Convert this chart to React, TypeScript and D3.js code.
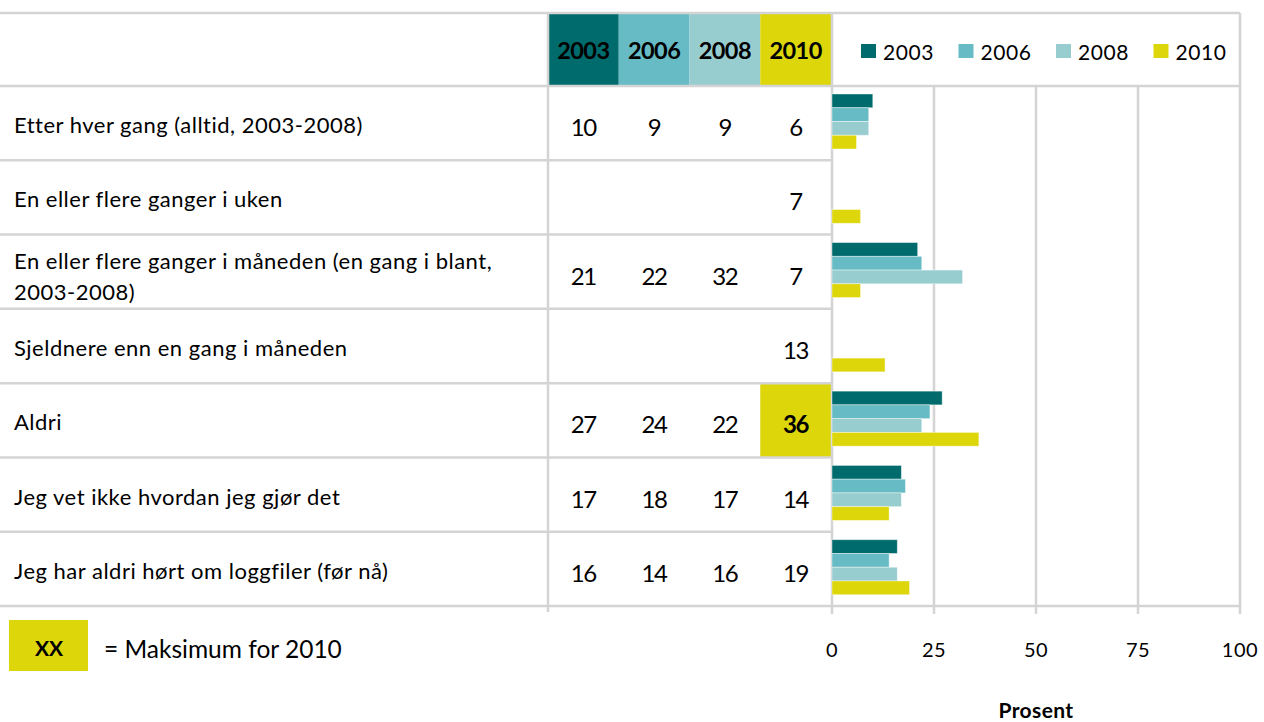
import React from "react";
import * as d3 from "d3";

const years = ["2003", "2006", "2008", "2010"];
const colors = ["#006b6d", "#66bbc4", "#98cdd0", "#ddd60b"];
const categories = [
  ["Etter hver gang (alltid, 2003-2008)"],
  ["En eller flere ganger i uken"],
  ["En eller flere ganger i måneden (en gang i blant,", "2003-2008)"],
  ["Sjeldnere enn en gang i måneden"],
  ["Aldri"],
  ["Jeg vet ikke hvordan jeg gjør det"],
  ["Jeg har aldri hørt om loggfiler (før nå)"],
];
const v2003: (number | null)[] = [10, null, 21, null, 27, 17, 16];
const v2006: (number | null)[] = [9, null, 22, null, 24, 18, 14];
const v2008: (number | null)[] = [9, null, 32, null, 22, 17, 16];
const v2010: (number | null)[] = [6, 7, 7, 13, 36, 14, 19];
const series = [v2003, v2006, v2008, v2010];
const xTicks = [0, 25, 50, 75, 100];

const FONT = "Lato, 'Open Sans', sans-serif";
const GRID = "#d4d4d4";

export default function App() {
  const W = 1264, H = 722;
  const top = 13, headerBottom = 86, bottom = 606;
  const x = d3.scaleLinear().domain([0, 100]).range([832, 1240]);
  const rowIdx = categories.map((_, i) => String(i));
  const y = d3.scaleBand().domain(rowIdx).range([headerBottom, bottom]);
  const inner = d3.scaleBand().domain(years).range([8, 63]);
  const colX = d3.scaleBand().domain(years).range([548, 831]);
  const maxIdx = v2010.indexOf(d3.max(v2010 as number[]) as number);

  return (
    <div style={{ position: "absolute", left: 0, top: 0 }}>
      <svg width={W} height={H} style={{ display: "block", fontFamily: FONT }}>
        <rect width={W} height={H} fill="#fff" />
        {/* header cells */}
        {years.map((yr, i) => (
          <g key={yr}>
            <rect x={colX(yr)} y={top} width={colX.bandwidth()} height={headerBottom - top} fill={colors[i]} />
            <text x={(colX(yr) as number) + colX.bandwidth() / 2} y={59} textAnchor="middle" fontSize={23.5} letterSpacing={-0.6} fontWeight="bold" fill="#000">
              {yr}
            </text>
          </g>
        ))}
        {/* highlight max 2010 */}
        <rect x={colX("2010")} y={y(String(maxIdx))} width={colX.bandwidth()} height={y.bandwidth()} fill={colors[3]} />
        {/* vertical grid in chart */}
        {xTicks.map((t) => (
          <line key={t} x1={x(t)} x2={x(t)} y1={t === 0 || t === 100 ? top : headerBottom} y2={614} stroke={GRID} strokeWidth={2.5} />
        ))}
        <line x1={548} x2={548} y1={top} y2={612} stroke={GRID} strokeWidth={2.5} />
        {/* horizontal lines */}
        <line x1={0} x2={1240} y1={top} y2={top} stroke={GRID} strokeWidth={2.5} />
        <line x1={0} x2={1240} y1={headerBottom} y2={headerBottom} stroke={GRID} strokeWidth={2.5} />
        {rowIdx.slice(1).map((r) => (
          <line key={r} x1={0} x2={831} y1={y(r)} y2={y(r)} stroke={GRID} strokeWidth={2.5} />
        ))}
        <line x1={0} x2={1240} y1={bottom} y2={bottom} stroke={GRID} strokeWidth={2.5} />
        {/* legend */}
        {years.map((yr, i) => {
          const lx = 861 + i * 97.5;
          return (
            <g key={yr}>
              <rect x={lx} y={44} width={15} height={14} fill={colors[i]} />
              <text x={lx + 22} y={60} fontSize={21} letterSpacing={0.6} fill="#000">{yr}</text>
            </g>
          );
        })}
        {/* rows */}
        {categories.map((lines, i) => {
          const r = String(i);
          const y0 = y(r) as number;
          const cy = y0 + y.bandwidth() / 2;
          return (
            <g key={r}>
              {lines.map((ln, k) => (
                <text key={k} x={14} y={lines.length === 1 ? cy + 10 : cy - 3 + k * 31} fontSize={22} letterSpacing={0.5} fill="#000">
                  {ln}
                </text>
              ))}
              {series.map((s, j) =>
                s[i] == null ? null : (
                  <g key={j}>
                    <text
                      x={(colX(years[j]) as number) + colX.bandwidth() / 2}
                      y={cy + 13}
                      textAnchor="middle"
                      fontSize={24}
                      letterSpacing={-1.2}
                      fontWeight={j === 3 && i === maxIdx ? "bold" : "normal"}
                      fill="#000"
                    >
                      {s[i]}
                    </text>
                    <rect
                      x={x(0)}
                      y={y0 + (inner(years[j]) as number)}
                      width={x(s[i] as number) - x(0)}
                      height={inner.bandwidth()}
                      fill={colors[j]}
                      stroke="#fff"
                      strokeOpacity={0.5}
                      strokeWidth={0.8}
                    />
                  </g>
                )
              )}
            </g>
          );
        })}
        {/* max legend */}
        <rect x={9} y={620} width={79} height={51} fill={colors[3]} />
        <text x={49} y={656} textAnchor="middle" fontSize={21} fontWeight="bold" fill="#000">XX</text>
        <text x={104} y={658} fontSize={24.5} fill="#000">= Maksimum for 2010</text>
        {/* axis labels */}
        {xTicks.map((t) => (
          <text key={t} x={x(t)} y={657} textAnchor="middle" fontSize={20} letterSpacing={0.5} fill="#000">{t}</text>
        ))}
        <text x={1036} y={718} textAnchor="middle" fontSize={21} letterSpacing={0.4} fontWeight="bold" fill="#000">Prosent</text>
      </svg>
    </div>
  );
}
